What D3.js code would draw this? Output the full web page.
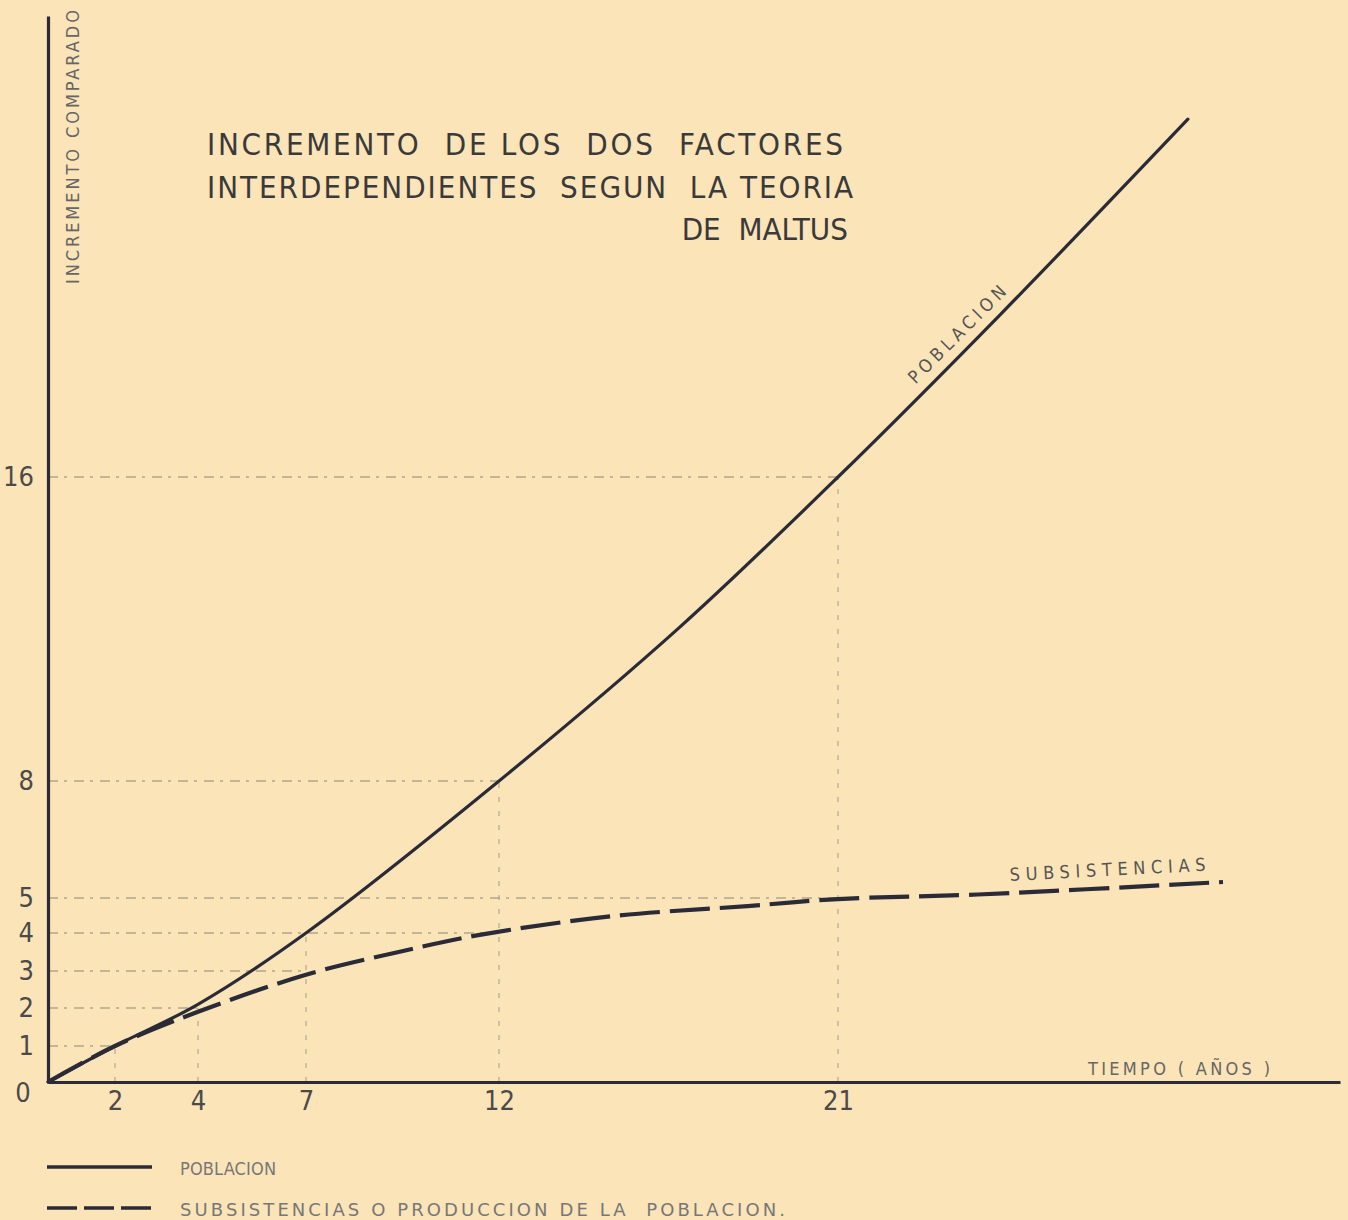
<!DOCTYPE html>
<html>
<head>
<meta charset="utf-8">
<script src="https://cdn.jsdelivr.net/npm/d3@7"></script>
<style>
  body { margin: 0; background: #fbe4b8; }
  svg { display: block; }
  text { font-family: "DejaVu Sans Condensed", "Roboto", sans-serif; }
</style>
</head>
<body>
<svg width="1348" height="1220"></svg>
<script>
// Data (x = tiempo en años, y = incremento comparado)
var poblacionX = [0, 2, 4, 7, 12, 16.8, 21, 25.3, 30.27];
var poblacionY = [0, 1, 2.1, 4, 8, 12.05, 16, 20.3, 25.47];

var subsistX = [0, 2, 4, 7, 9.4, 11.5, 15, 18.6, 21, 24.7, 31.2];
var subsistY = [0, 1, 1.9, 2.9, 3.5, 3.95, 4.48, 4.77, 4.97, 5.09, 5.41];

var xTicks = [2, 4, 7, 12, 21];
var yTicks = [1, 2, 3, 4, 5, 8, 16];

// the hand drawn grid is not evenly spaced, so the scales get one stop per tick
var xStops = [0, 2, 4, 7, 12, 21, 34.3];
var xPix   = [48, 115, 198, 306, 499, 838, 1340];
var yStops = [0, 1, 2, 3, 4, 5, 8, 16, 28.2];
var yPix   = [1082, 1046, 1008, 971, 933, 898, 781, 477, 16];

// guide lines: from axis to the curve point they mark
var hGuides = [[1, 2], [2, 4], [3, 7], [4, 12], [5, 21], [8, 12], [16, 21]]; // [y, x]
var vGuides = [[2, 1], [4, 2], [7, 4], [12, 8], [21, 16]];                   // [x, y]

var titleLines = ["INCREMENTO  DE LOS  DOS  FACTORES", "INTERDEPENDIENTES  SEGUN  LA TEORIA", "DE  MALTUS"];

var ink = "#2b2b38";
var svg = d3.select("svg");

var x = d3.scaleLinear().domain(xStops).range(xPix);
var y = d3.scaleLinear().domain(yStops).range(yPix);

var poblacion = poblacionX.map(function(d, i){ return [d, poblacionY[i]]; });
var subsist = subsistX.map(function(d, i){ return [d, subsistY[i]]; });

// guides
svg.append("g").selectAll("line.h")
  .data(hGuides).enter().append("line")
  .attr("x1", x(0)).attr("x2", function(d){ return x(d[1]); })
  .attr("y1", function(d){ return y(d[0]); }).attr("y2", function(d){ return y(d[0]); })
  .attr("stroke", "#8c8576").attr("stroke-width", 1.1)
  .attr("stroke-dasharray", "10,6,3,7");

svg.append("g").selectAll("line.v")
  .data(vGuides).enter().append("line")
  .attr("x1", function(d){ return x(d[0]); }).attr("x2", function(d){ return x(d[0]); })
  .attr("y1", y(0)).attr("y2", function(d){ return y(d[1]); })
  .attr("stroke", "#a39c8a").attr("stroke-width", 1)
  .attr("stroke-dasharray", "5,9");

// axes
var xAxis = d3.axisBottom(x).tickValues(xTicks).tickSize(0).tickPadding(9);
var yAxis = d3.axisLeft(y).tickValues(yTicks).tickSize(0).tickPadding(14);

var gx = svg.append("g").attr("transform", "translate(0," + y(0) + ")").call(xAxis);
var gy = svg.append("g").attr("transform", "translate(" + x(0) + ",0)").call(yAxis);

[gx, gy].forEach(function(g){
  g.select(".domain").attr("stroke", ink).attr("stroke-width", 3.2);
  g.selectAll("text").attr("font-size", 27).attr("fill", "#4a4a4a")
    .style("font-family", "'DejaVu Sans Condensed', sans-serif");
});

svg.append("text").attr("x", 23).attr("y", 1102).attr("text-anchor", "middle")
  .attr("font-size", 27).attr("fill", "#4a4a4a").text("0");

// curves
var line = d3.line()
  .x(function(d){ return x(d[0]); })
  .y(function(d){ return y(d[1]); })
  .curve(d3.curveCatmullRom.alpha(0.5));

svg.append("path").datum(poblacion)
  .attr("d", line).attr("fill", "none")
  .attr("stroke", ink).attr("stroke-width", 3.2).attr("stroke-linecap", "round");

svg.append("path").datum(subsist)
  .attr("d", line).attr("fill", "none")
  .attr("stroke", ink).attr("stroke-width", 4.2)
  .attr("stroke-dasharray", "40,10");

// title
var title = svg.append("g").attr("fill", "#3a3a3a").attr("font-size", 31);
title.append("text").attr("x", 207).attr("y", 155).attr("xml:space", "preserve")
  .attr("textLength", 636).attr("lengthAdjust", "spacing").text(titleLines[0]);
title.append("text").attr("x", 207).attr("y", 198).attr("xml:space", "preserve")
  .attr("textLength", 646).attr("lengthAdjust", "spacing").text(titleLines[1]);
title.append("text").attr("x", 848).attr("y", 240).attr("xml:space", "preserve")
  .attr("text-anchor", "end").text(titleLines[2]);

// axis titles
svg.append("text")
  .attr("transform", "translate(79,284) rotate(-90)")
  .attr("font-size", 18).attr("fill", "#666")
  .attr("textLength", 274).attr("lengthAdjust", "spacing")
  .text("INCREMENTO  COMPARADO");

svg.append("text").attr("x", 1088).attr("y", 1075)
  .attr("font-size", 18).attr("fill", "#666")
  .attr("textLength", 182).attr("lengthAdjust", "spacing")
  .text("TIEMPO ( AÑOS )");

// curve labels
svg.append("text")
  .attr("transform", "translate(" + x(23.05) + "," + (y(18.2) - 9) + ") rotate(-45)")
  .attr("font-size", 18).attr("fill", "#555")
  .attr("textLength", 130).attr("lengthAdjust", "spacing")
  .text("POBLACION");

svg.append("text")
  .attr("transform", "translate(1010,881) rotate(-3)")
  .attr("font-size", 18).attr("fill", "#555")
  .attr("textLength", 196).attr("lengthAdjust", "spacing")
  .text("SUBSISTENCIAS");

// legend
var legend = svg.append("g");
legend.append("line").attr("x1", 47).attr("x2", 152).attr("y1", 1167).attr("y2", 1167)
  .attr("stroke", ink).attr("stroke-width", 3.5);
legend.append("line").attr("x1", 47).attr("x2", 152).attr("y1", 1208).attr("y2", 1208)
  .attr("stroke", ink).attr("stroke-width", 3.5).attr("stroke-dasharray", "30,7");
legend.append("text").attr("x", 180).attr("y", 1175)
  .attr("font-size", 18).attr("fill", "#777")
  .attr("textLength", 96).attr("lengthAdjust", "spacing").text("POBLACION");
legend.append("text").attr("x", 180).attr("y", 1216).attr("xml:space", "preserve")
  .attr("font-size", 18).attr("fill", "#777")
  .style("font-family", "'DejaVu Sans', sans-serif")
  .attr("textLength", 605).attr("lengthAdjust", "spacing")
  .text("SUBSISTENCIAS O PRODUCCION DE LA  POBLACION.");
</script>
</body>
</html>
